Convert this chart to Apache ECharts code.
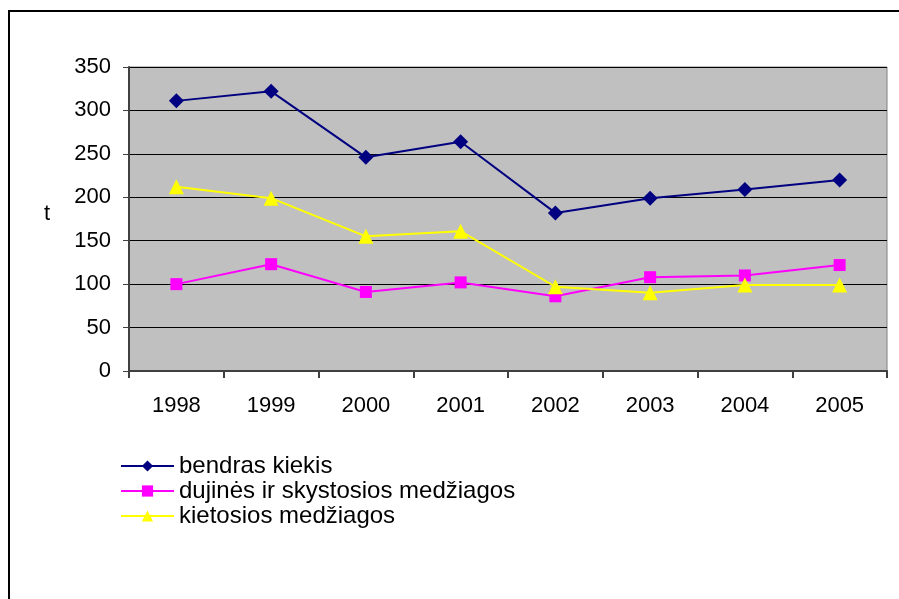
<!DOCTYPE html>
<html>
<head>
<meta charset="utf-8">
<script src="https://cdn.jsdelivr.net/npm/echarts@6/dist/echarts.min.js"></script>
<style>
  html, body { margin: 0; padding: 0; background: #ffffff; }
  #chart { width: 899px; height: 599px; }
</style>
</head>
<body>
<div id="chart"></div>
<script>
// duomenys
const years = ['1998', '1999', '2000', '2001', '2002', '2003', '2004', '2005']
const bendras = [311, 322, 246, 264, 182, 199, 209, 220]
const dujines = [100, 123, 91, 102, 86, 108, 110, 122]
const kietosios = [212, 199, 155, 161, 97, 90, 99, 99]
const seriesNames = ['bendras kiekis', 'dujinės ir skystosios medžiagos', 'kietosios medžiagos']

const myChart = echarts.init(document.getElementById('chart'))
const font = 'Liberation Sans, Arial, sans-serif'

const options = {
  animation: false,
  backgroundColor: '#ffffff',
  textStyle: { fontFamily: font },
  // rėmelis aplink
  graphic: [
    {
      type: 'rect',
      shape: { x: 9, y: 11, width: 900, height: 600 },
      style: { fill: 'none', stroke: '#000000', lineWidth: 2 }
    },
    {
      type: 'text',
      left: 44,
      top: 203,
      style: { text: 't', font: '22px ' + font, fill: '#000000' }
    }
  ],
  grid: {
    left: 129,
    right: 12,
    top: 67,
    bottom: 228,
    show: true,
    backgroundColor: '#c0c0c0',
    borderColor: '#808080',
    borderWidth: 1
  },
  legend: {
    orient: 'vertical',
    left: 115,
    top: 449,
    itemWidth: 53,
    itemHeight: 14,
    itemGap: 1,
    textStyle: { fontSize: 24, lineHeight: 24, color: '#000000', fontFamily: font },
    data: seriesNames
  },
  xAxis: {
    type: 'category',
    data: years,
    boundaryGap: true,
    axisLine: { lineStyle: { color: '#404040', width: 2 } },
    axisTick: { show: true, length: 7, lineStyle: { color: '#404040', width: 2 } },
    axisLabel: { fontSize: 22, color: '#000000', margin: 24, fontFamily: font },
    splitLine: { show: false }
  },
  yAxis: {
    type: 'value',
    min: 0,
    max: 350,
    interval: 50,
    axisLine: { show: true, lineStyle: { color: '#404040', width: 2 } },
    axisTick: { show: true, length: 6, lineStyle: { color: '#404040', width: 1 } },
    axisLabel: { fontSize: 22, color: '#000000', margin: 18, fontFamily: font },
    splitLine: { show: true, lineStyle: { color: '#000000', width: 1 } }
  },
  series: [
    {
      name: seriesNames[0],
      type: 'line',
      data: bendras,
      symbol: 'diamond',
      symbolSize: 15,
      lineStyle: { color: '#000080', width: 2 },
      itemStyle: { color: '#000080' }
    },
    {
      name: seriesNames[1],
      type: 'line',
      data: dujines,
      symbol: 'rect',
      symbolSize: 12,
      lineStyle: { color: '#ff00ff', width: 2 },
      itemStyle: { color: '#ff00ff' }
    },
    {
      name: seriesNames[2],
      type: 'line',
      data: kietosios,
      symbol: 'triangle',
      symbolSize: 15,
      lineStyle: { color: '#ffff00', width: 2 },
      itemStyle: { color: '#ffff00' }
    }
  ]
}
myChart.setOption(options)
</script>
</body>
</html>
